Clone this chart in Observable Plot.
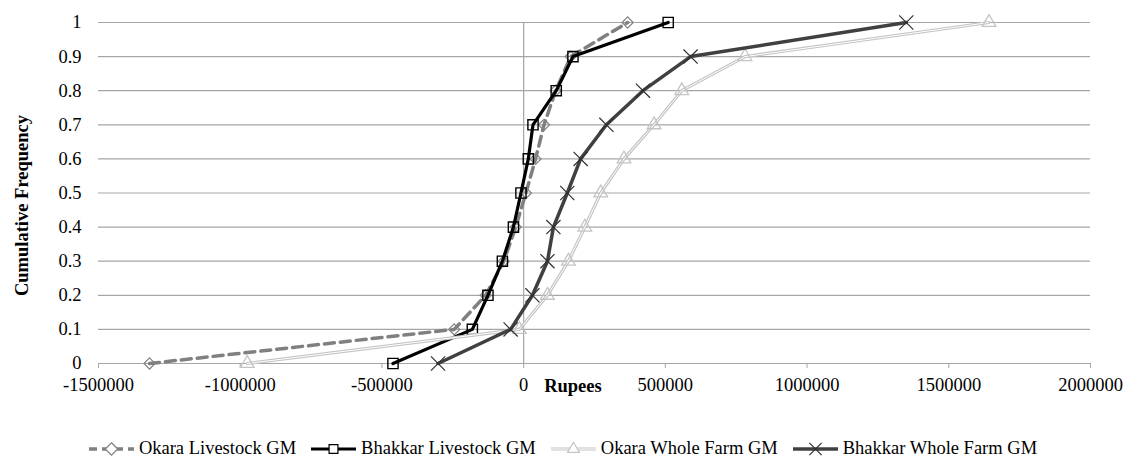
<!DOCTYPE html>
<html>
<head>
<meta charset="utf-8">
<script src="https://cdn.jsdelivr.net/npm/d3@7"></script>
<script src="https://cdn.jsdelivr.net/npm/@observablehq/plot@0.6"></script>
<style>
  html, body { margin: 0; padding: 0; background: #fff; }
  body { width: 1125px; height: 459px; overflow: hidden; position: relative; font-family: "Liberation Serif", "Times New Roman", "DejaVu Serif", serif; }
  #chart svg, #chart svg text { font-family: "Liberation Serif", "Times New Roman", "DejaVu Serif", serif !important; font-size: 18.5px !important; }
  #legend { position: absolute; top: 438px; left: 0; width: 1125px; display: flex; justify-content: center; align-items: center; font-family: "Liberation Serif", "Times New Roman", "DejaVu Serif", serif; font-size: 18.5px; line-height: 21px; color: #000; white-space: nowrap; }
  .item { display: flex; align-items: center; margin: 0 7px; }
  .item svg { margin-right: 4px; }
</style>
</head>
<body>
<div id="chart"></div>
<div id="legend"></div>
<script>
const freq = [0, 0.1, 0.2, 0.3, 0.4, 0.5, 0.6, 0.7, 0.8, 0.9, 1];
const okaraLivestock   = [-1320000, -245000, -134000, -70000, -28000, 8000, 42000, 72000, 113000, 166000, 367000];
const bhakkarLivestock = [-461000, -181000, -126000, -75000, -36000, -9500, 16500, 33000, 115000, 174000, 510000];
const okaraWholeFarm   = [-975000, -15000, 84000, 158000, 216000, 272000, 354000, 460000, 558000, 781000, 1642000];
const bhakkarWholeFarm = [-302000, -46000, 31000, 84000, 105000, 154000, 201000, 292000, 421000, 589000, 1350000];
const seriesNames = ["Okara Livestock GM", "Bhakkar Livestock GM", "Okara Whole Farm GM", "Bhakkar Whole Farm GM"];
const xTicks = [-1500000, -1000000, -500000, 0, 500000, 1000000, 1500000, 2000000];
const yTicks = [0, 0.1, 0.2, 0.3, 0.4, 0.5, 0.6, 0.7, 0.8, 0.9, 1];

const toRows = (vals, name) => vals.map((v, i) => ({x: v, y: freq[i], series: name}));
const dOL = toRows(okaraLivestock, seriesNames[0]);
const dBL = toRows(bhakkarLivestock, seriesNames[1]);
const dOW = toRows(okaraWholeFarm, seriesNames[2]);
const dBW = toRows(bhakkarWholeFarm, seriesNames[3]);

const grid = "#a6a6a6";

const plot = Plot.plot({
  width: 1125,
  height: 420,
  marginLeft: 98,
  marginRight: 35,
  marginTop: 22,
  marginBottom: 57,
  style: {color: "#000", background: "#fff"},
  x: {domain: [-1500000, 2000000]},
  y: {domain: [0, 1]},
  marks: [
    Plot.ruleY(yTicks, {stroke: grid, strokeWidth: 1.2}),
    Plot.ruleX([0], {stroke: grid, strokeWidth: 1.2}),
    Plot.axisX({ticks: xTicks, tickFormat: d => String(d), tickSize: 5, stroke: grid, tickPadding: 9, label: null}),
    Plot.axisY({ticks: yTicks, tickFormat: d => String(d), tickSize: 0, tickPadding: 17, label: null}),
    // Okara Livestock GM
    Plot.line(dOL, {x: "x", y: "y", stroke: "#808080", strokeWidth: 3.5, strokeDasharray: "10,6"}),
    Plot.dot(dOL, {x: "x", y: "y", symbol: "diamond2", r: 5, stroke: "#808080", strokeWidth: 1.2, fill: "none"}),
    // Bhakkar Livestock GM
    Plot.line(dBL, {x: "x", y: "y", stroke: "#000", strokeWidth: 3.2}),
    Plot.dot(dBL, {x: "x", y: "y", symbol: "square2", r: 6.5, stroke: "#000", strokeWidth: 1.4, fill: "none"}),
    // Okara Whole Farm GM (double line)
    Plot.line(dOW, {x: "x", y: "y", stroke: "#c4c4c4", strokeWidth: 3.2}),
    Plot.line(dOW, {x: "x", y: "y", stroke: "#fff", strokeWidth: 1}),
    Plot.dot(dOW, {x: "x", y: "y", symbol: "triangle2", r: 6.5, stroke: "#c4c4c4", strokeWidth: 1.3, fill: "none"}),
    // Bhakkar Whole Farm GM
    Plot.line(dBW, {x: "x", y: "y", stroke: "#404040", strokeWidth: 3.5}),
    Plot.dot(dBW, {x: "x", y: "y", symbol: "times", r: 6.5, stroke: "#303030", strokeWidth: 1.2})
  ]
});
document.getElementById("chart").appendChild(plot);

const svg = d3.select(plot);
const xs = plot.scale("x");
const ys = plot.scale("y");

// y-axis title
svg.append("text")
  .attr("transform", `translate(28,${(ys.apply(0) + ys.apply(1)) / 2 + 13}) rotate(-90)`)
  .attr("text-anchor", "middle")
  .attr("font-weight", "bold")
  .attr("fill", "#000")
  .text("Cumulative Frequency");

// x-axis title next to the 0 tick
svg.append("text")
  .attr("x", xs.apply(0) + 21)
  .attr("y", ys.apply(0) + 29)
  .attr("text-anchor", "start")
  .attr("font-weight", "bold")
  .attr("fill", "#000")
  .text("Rupees");

// Legend
const legendDefs = [
  {name: seriesNames[0], stroke: "#808080", w: 3.5, dash: "8,5", marker: "diamond", mstroke: "#808080"},
  {name: seriesNames[1], stroke: "#000", w: 3.2, dash: null, marker: "square", mstroke: "#000"},
  {name: seriesNames[2], stroke: "#c4c4c4", w: 3.2, dash: null, marker: "triangle", mstroke: "#c4c4c4", dbl: true},
  {name: seriesNames[3], stroke: "#404040", w: 3.5, dash: null, marker: "times", mstroke: "#303030"}
];
const leg = d3.select("#legend");
for (const d of legendDefs) {
  const it = leg.append("div").attr("class", "item");
  const s = it.append("svg").attr("width", 47).attr("height", 16);
  const ln = s.append("line").attr("x1", 1).attr("x2", 46).attr("y1", 8).attr("y2", 8)
    .attr("stroke", d.stroke).attr("stroke-width", d.w);
  if (d.dash) ln.attr("stroke-dasharray", d.dash);
  if (d.dbl) s.append("line").attr("x1", 1).attr("x2", 46).attr("y1", 8).attr("y2", 8).attr("stroke", "#fff").attr("stroke-width", 1);
  const sym = {diamond: d3.symbolDiamond2, square: d3.symbolSquare2, triangle: d3.symbolTriangle2, times: d3.symbolTimes}[d.marker];
  s.append("path").attr("transform", "translate(23.5,8)")
    .attr("d", d3.symbol(sym, 100)())
    .attr("fill", d.marker === "times" ? "none" : "#fff")
    .attr("stroke", d.mstroke).attr("stroke-width", 1.2);
  it.append("span").text(d.name);
}
</script>
</body>
</html>
